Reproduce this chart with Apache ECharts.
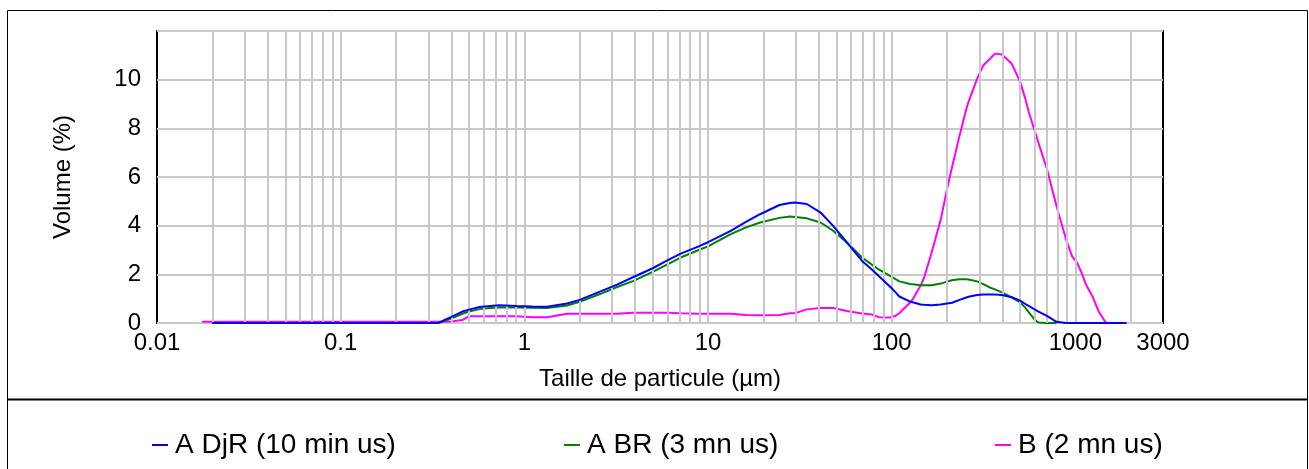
<!DOCTYPE html>
<html><head><meta charset="utf-8">
<script src="https://cdn.jsdelivr.net/npm/echarts@6/dist/echarts.min.js"></script>
<style>html,body{margin:0;padding:0;background:#fff}#c{width:1309px;height:469px}</style>
</head><body><div id="c"></div>
<script>
// Particle sizes (µm)
const sizes = [
  0.0176, 0.02, 0.05, 0.1, 0.2, 0.3, 0.34, 0.4, 0.46, 0.5,
  0.57, 0.65, 0.73, 0.91, 1.1, 1.33, 1.71, 2.0, 2.6, 3.2,
  3.9, 5, 5.9, 7.1, 8.9, 10, 13.3, 16, 19.2, 24.5,
  27.9, 29.7, 34.5, 41, 48, 57, 69, 78, 85, 99,
  105, 110, 126, 130, 144, 150, 165, 185, 200, 213,
  234, 255, 262, 292, 315, 342, 365, 398, 450, 500,
  535, 557, 603, 630, 700, 790, 810, 890, 960, 1020,
  1090, 1140, 1240, 1340, 1450, 1480, 1900
];
// Volume (%) – A DjR (10 min us)
const volADjR = [
  null, 0, 0, 0, 0, 0, 0, 0.25, 0.47, 0.55,
  0.66, 0.70, 0.73, 0.70, 0.68, 0.67, 0.80, 0.95, 1.30, 1.58,
  1.88, 2.25, 2.54, 2.85, 3.15, 3.32, 3.79, 4.15, 4.47, 4.85,
  4.93, 4.95, 4.89, 4.54, 3.99, 3.31, 2.55, 2.20, 1.93, 1.46,
  1.26, 1.09, 0.88, 0.85, 0.76, 0.75, 0.73, 0.76, 0.80, 0.83,
  0.95, 1.05, 1.08, 1.15, 1.17, 1.17, 1.17, 1.15, 1.06, 0.92,
  0.78, 0.70, 0.55, 0.47, 0.29, 0.05, 0, 0, 0, 0,
  0, 0, 0, 0, 0, 0, 0
];
// Volume (%) – A BR (3 mn us)
const volABR = [
  null, 0, 0, 0, 0, 0, 0, 0.18, 0.38, 0.47,
  0.57, 0.62, 0.64, 0.64, 0.63, 0.62, 0.72, 0.87, 1.20, 1.48,
  1.72, 2.10, 2.38, 2.69, 3.00, 3.15, 3.65, 3.92, 4.13, 4.32,
  4.38, 4.36, 4.30, 4.13, 3.79, 3.31, 2.69, 2.40, 2.20, 1.92,
  1.80, 1.71, 1.60, 1.59, 1.55, 1.55, 1.55, 1.62, 1.70, 1.76,
  1.80, 1.80, 1.79, 1.71, 1.60, 1.46, 1.38, 1.26, 1.05, 0.85,
  0.62, 0.45, 0.12, 0.02, 0, 0, null, null, null, null,
  null, null, null, null, null, null, null
];
// Volume (%) – B (2 mn us)
const volB = [
  0.05, 0.05, 0.05, 0.05, 0.05, 0.05, 0.05, 0.06, 0.12, 0.28,
  0.28, 0.28, 0.28, 0.28, 0.24, 0.24, 0.38, 0.38, 0.38, 0.38,
  0.42, 0.42, 0.42, 0.40, 0.38, 0.38, 0.38, 0.33, 0.32, 0.33,
  0.40, 0.40, 0.56, 0.62, 0.62, 0.49, 0.39, 0.35, 0.24, 0.23,
  0.30, 0.40, 0.84, 0.97, 1.55, 1.85, 2.90, 4.25, 5.50, 6.40,
  7.69, 8.80, 9.09, 10.04, 10.58, 10.85, 11.07, 11.03, 10.66, 9.92,
  9.20, 8.68, 7.86, 7.40, 6.33, 4.80, 4.50, 3.44, 2.74, 2.49,
  2.00, 1.59, 1.09, 0.47, 0.06, 0, null
];
const seriesNames = ['A DjR (10 min us)', 'A BR (3 mn us)', 'B (2 mn us)'];
const xTickLabels = [0.01, 0.1, 1, 10, 100, 1000, 3000];
const yTicks = [0, 2, 4, 6, 8, 10];

const FONT = '"Liberation Sans", Arial, sans-serif';
const pairs = vals => sizes.map((s, i) => vals[i] == null ? null : [s, vals[i]]).filter(p => p);

// log-axis minor gridlines (1..9 × decade)
const gridVals = [];
for (let d = -2; d <= 3; d++) {
  for (let m = 1; m <= 9; m++) {
    const v = +(m * Math.pow(10, d)).toPrecision(3);
    if (v > 0.01 && v < 3000) gridVals.push(v);
  }
}

const chart = echarts.init(document.getElementById('c'), null, {renderer: 'canvas'});
const lineSeries = (name, vals, color, z) => ({
  name, type: 'line', data: pairs(vals), showSymbol: false, symbol: 'none',
  lineStyle: {color, width: 2}, itemStyle: {color}, z, animation: false, silent: true
});
chart.setOption({
  animation: false,
  backgroundColor: '#fff',
  textStyle: {fontFamily: FONT, color: '#000'},
  graphic: [
    {type: 'rect', shape: {x: 7.5, y: 10.5, width: 1300, height: 470}, style: {fill: 'none', stroke: '#000', lineWidth: 1}, z: 100},
    {type: 'line', shape: {x1: 7, y1: 399.5, x2: 1308, y2: 399.5}, style: {stroke: '#000', lineWidth: 2}, z: 100}
  ],
  grid: {left: 157, right: 146, top: 31, bottom: 146, show: true, borderColor: '#000', borderWidth: 2, backgroundColor: '#fff', containLabel: false},
  xAxis: {
    type: 'log', logBase: 10, min: 0.01, max: 3000,
    name: 'Taille de particule (µm)', nameLocation: 'middle', nameGap: 44,
    nameTextStyle: {fontSize: 24, color: '#000', fontFamily: FONT},
    axisLine: {show: false}, axisTick: {show: false}, splitLine: {show: false},
    axisLabel: {
      customValues: xTickLabels, showMinLabel: true, showMaxLabel: true,
      fontSize: 24, color: '#000', margin: 8, fontFamily: FONT,
      formatter: v => String(+(+v).toPrecision(4))
    }
  },
  yAxis: {
    type: 'value', min: 0, max: 12, interval: 2,
    name: 'Volume (%)', nameLocation: 'middle', nameGap: 82, nameRotate: 90,
    nameTextStyle: {fontSize: 24, color: '#000', fontFamily: FONT},
    axisLine: {show: false}, axisTick: {show: false},
    splitLine: {show: true, lineStyle: {color: '#c8c8c8', width: 2}},
    axisLabel: {fontSize: 24, color: '#000', margin: 16, fontFamily: FONT,
      formatter: v => (yTicks.indexOf(v) >= 0 ? String(v) : '')}
  },
  legend: seriesNames.map((n, i) => ({
    data: [n], left: [147, 559, 990][i], top: 426, icon: 'rect', itemWidth: 16, itemHeight: 2, itemGap: 0,
    textStyle: {fontSize: 28, color: '#000', fontFamily: FONT, padding: [0, 0, 0, 2]},
    selectedMode: false
  })),
  series: [
    {type: 'line', data: [], silent: true, z: 1,
      markLine: {silent: true, symbol: ['none', 'none'], label: {show: false}, animation: false,
        lineStyle: {color: '#c8c8c8', width: 2, type: 'solid'},
        data: gridVals.map(v => ({xAxis: v}))}},
    lineSeries(seriesNames[2], volB, '#ff00ff', 3),
    lineSeries(seriesNames[1], volABR, '#008000', 4),
    lineSeries(seriesNames[0], volADjR, '#0000ff', 5)
  ]
});
</script></body></html>
